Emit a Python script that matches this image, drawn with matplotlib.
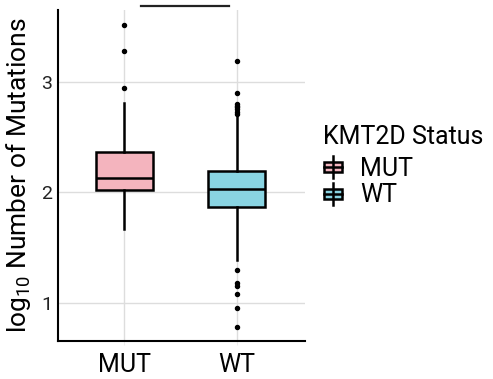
import matplotlib
matplotlib.use("Agg")
import matplotlib.pyplot as plt
from matplotlib.patches import Rectangle
from matplotlib.lines import Line2D

plt.rcParams['font.family'] = ['Roboto', 'DejaVu Sans']
plt.rcParams['mathtext.fontset'] = 'custom'
plt.rcParams['mathtext.rm'] = 'Roboto'

groups = ["MUT", "WT"]
colors = ["#F4B4BE", "#89D4E2"]
q1 = [2.02, 1.87]
med = [2.127, 2.033]
q3 = [2.36, 2.195]
whislo = [1.665, 1.387]
whishi = [2.81, 2.69]
fliers_mut = [3.51, 3.28, 2.94]
fliers_wt = [3.19, 2.90, 2.80, 2.78, 2.77, 2.75, 2.73, 2.71,
             1.30, 1.18, 1.15, 1.075, 0.955, 0.78]
fliers = [fliers_mut, fliers_wt]
yticks = [1, 2, 3]
legend_title = "KMT2D Status"

W, H = 493, 379
fig = plt.figure(figsize=(W/100, H/100), dpi=100)
ax = fig.add_axes([58/W, 1-341/H, (305-58)/W, (341-10)/H])

stats = []
for i, g in enumerate(groups):
    stats.append(dict(label=g, q1=q1[i], med=med[i], q3=q3[i],
                      whislo=whislo[i], whishi=whishi[i], fliers=fliers[i]))

lw = 1.8
bp = ax.bxp(stats, positions=[1, 2], widths=0.51, patch_artist=True,
            showcaps=False,
            boxprops=dict(linewidth=lw, edgecolor='black'),
            medianprops=dict(color='black', linewidth=lw),
            whiskerprops=dict(color='black', linewidth=lw),
            flierprops=dict(marker='o', markersize=2.9, markerfacecolor='black',
                            markeredgecolor='black', linestyle='none'),
            zorder=3)
for patch, c in zip(bp['boxes'], colors):
    patch.set_facecolor(c)

ax.set_xlim(0.41, 2.607)
ax.set_ylim(0.653, 3.649)
ax.set_yticks(yticks)
ax.set_yticklabels([str(t) for t in yticks])
ax.set_xticks([1, 2])
ax.set_xticklabels(groups)
ax.grid(True, color='#DDDDDD', linewidth=1.0, zorder=0)
ax.set_axisbelow(True)
for s in ['top', 'right']:
    ax.spines[s].set_visible(False)
for s in ['left', 'bottom']:
    ax.spines[s].set_linewidth(1.5)
    ax.spines[s].set_color('black')
ax.tick_params(axis='y', length=0, labelsize=14, pad=4, labelcolor='#222222')
ax.tick_params(axis='x', length=3, color='#EEEEEE', labelsize=18, pad=6, labelcolor='black')
ax.set_ylabel(r"$\mathregular{log_{10}}$ Number of Mutations", fontsize=19, labelpad=6)

# significance bar (its text is clipped above the figure)
ax.plot([1.149, 1.931], [3.688, 3.688], color='#222222', linewidth=1.6, clip_on=False)

# manual legend in figure pixel coordinates
def fx(px):
    return px / W

def fy(py):
    return 1 - py / H

fig.text(fx(323), fy(144.3), legend_title, fontsize=18, va='baseline', ha='left')
key_cx = 332.5
key_w = 18
box_h = 10.5
whisk = 6.0
for i, (g, c) in enumerate(zip(groups, colors)):
    cy = 166.8 + i * 27.0
    fig.add_artist(Line2D([fx(key_cx)] * 2, [fy(cy - box_h/2 - whisk), fy(cy + box_h/2 + whisk)],
                          color='black', linewidth=1.8, transform=fig.transFigure))
    fig.add_artist(Rectangle((fx(key_cx - key_w/2), fy(cy + box_h/2)), key_w/W, box_h/H,
                             facecolor=c, edgecolor='black', linewidth=1.8,
                             transform=fig.transFigure))
    fig.add_artist(Line2D([fx(key_cx - key_w/2), fx(key_cx + key_w/2)], [fy(cy)] * 2,
                          color='black', linewidth=1.8, transform=fig.transFigure))
    fig.text(fx(360), fy(176.0 + i * 25.7), g, fontsize=18, va='baseline', ha='left')

fig.savefig("out.png", dpi=100)
